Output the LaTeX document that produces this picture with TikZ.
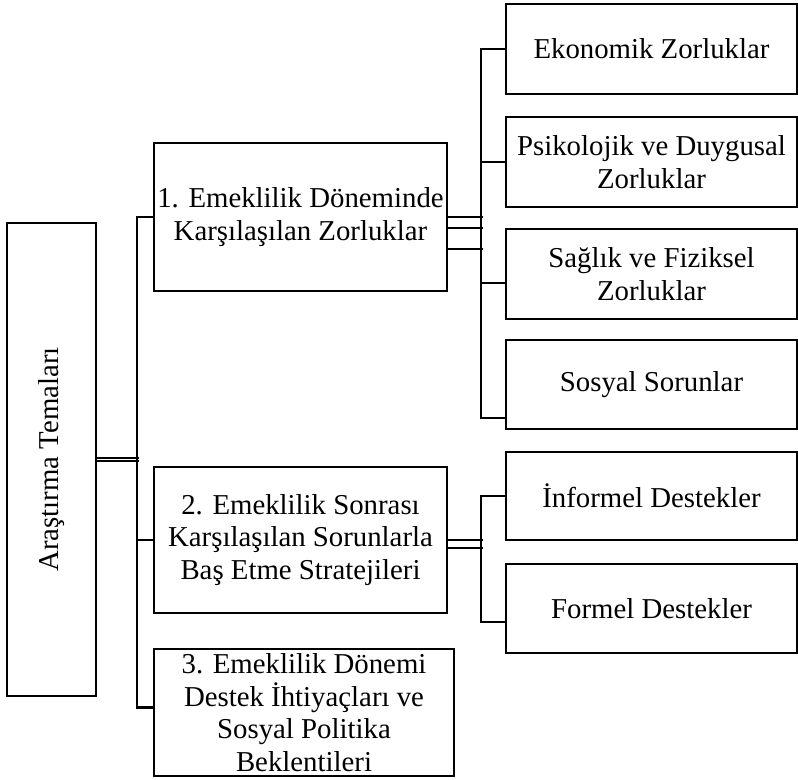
\documentclass[tikz,border=0pt]{standalone}
\usepackage{fontspec}
\setmainfont{Liberation Serif}
\usepackage{graphicx}
\usetikzlibrary{calc}

\begin{document}
\begin{tikzpicture}[x=0.75pt, y=-0.75pt, line width=1.6pt]
\tikzstyle{theme}=[draw=black, line width=2pt, inner sep=1pt, align=center, font=\fontsize{21.6}{24.5}\selectfont]
\tikzstyle{sub}=[theme, minimum width=291*0.75pt, minimum height=90*0.75pt]
\useasboundingbox (0,0) rectangle (798,780);
\node[theme, minimum width=89*0.75pt, minimum height=473*0.75pt] (root) at (51.5,459.5) {\rotatebox{90}{Araştırma Temaları}};
\node[theme, minimum width=293*0.75pt, minimum height=148*0.75pt] (box1) at (300.5,217) {1. Emeklilik Döneminde\\Karşılaşılan Zorluklar};
\node[theme, minimum width=293*0.75pt, minimum height=146*0.75pt] (box2) at (300.5,540) {2. Emeklilik Sonrası\\Karşılaşılan Sorunlarla\\Baş Etme Stratejileri};
\node[theme, minimum width=300*0.75pt, minimum height=127*0.75pt] (box3) at (304,712.5) {3. Emeklilik Dönemi\\Destek İhtiyaçları ve\\Sosyal Politika\\Beklentileri};
% alt temalar
\node[sub] (eko) at (651.5,49) {Ekonomik Zorluklar};
\node[sub] (psi) at (651.5,162) {Psikolojik ve Duygusal\\Zorluklar};
\node[sub] (sag) at (651.5,274) {Sağlık ve Fiziksel\\Zorluklar};
\node[sub, minimum height=89*0.75pt] (sos) at (651.5,384.5) {Sosyal Sorunlar};
\node[sub, minimum height=88*0.75pt] (inf) at (651.5,496) {İnformel Destekler};
\node[sub, minimum height=89*0.75pt] (formel) at (651.5,608.5) {Formel Destekler};
% ana dallar
\draw[double, double distance=1pt, line width=1.1pt] (root.east) -- ++(42,0);
\draw (box1.west) -- ++(-16,0) |- ($(box3.west)+(0,-5)$);
\draw (box2.west) -- ++(-16,0);
% 1. tema
\draw (box1.east) -- ++(35,0);
\draw ($(box1.east)+(0,11)$) -- ++(35,0);
\draw ($(box1.east)+(0,32)$) -- ++(35,0);
\draw (eko.west) -- ++(-24,0) |- ($(sos.south west)+(0,-12)$);
\draw (psi.west) -- ++(-24,0);
\draw ($(sag.west)+(0,9)$) -- ++(-24,0);
% 2. tema
\draw (box2.east) -- ++(35,0);
\draw ($(box2.east)+(0,8)$) -- ++(35,0);
\draw (inf.west) -- ++(-24,0) |- ($(formel.south west)+(0,-32)$);
\end{tikzpicture}
\end{document}
